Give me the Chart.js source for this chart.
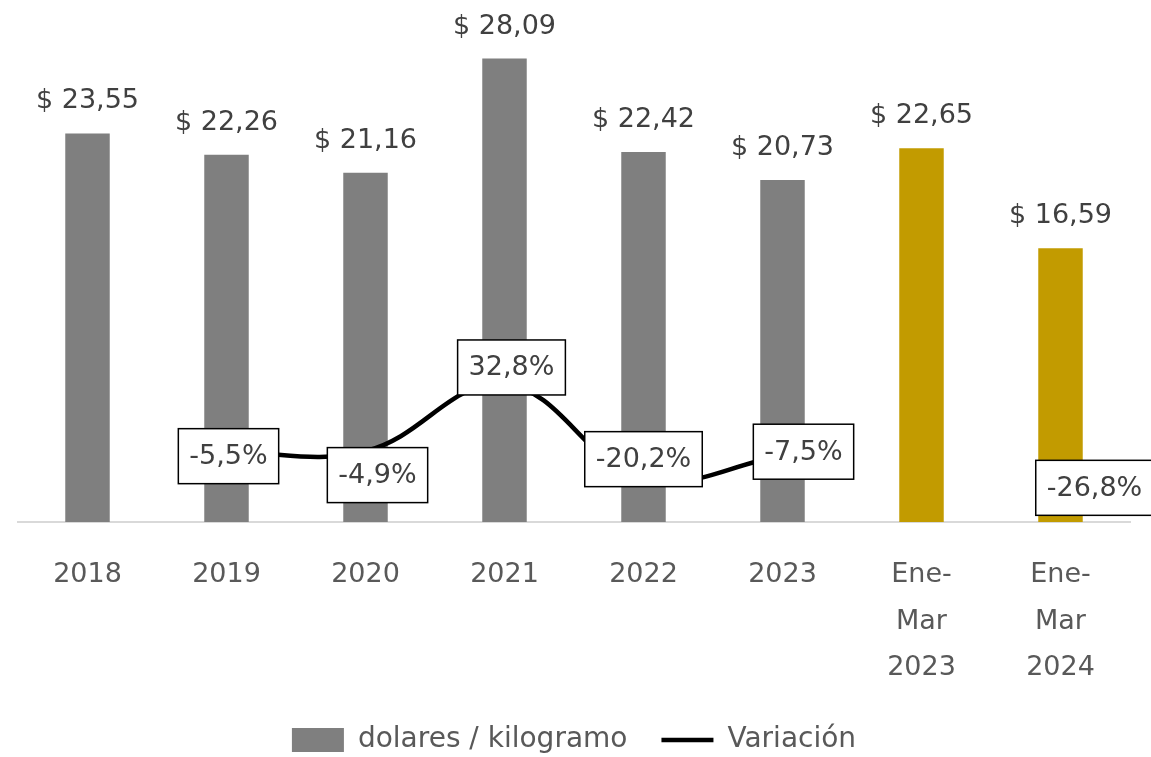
<!DOCTYPE html>
<html>
<head>
<meta charset="utf-8">
<script src="https://cdn.jsdelivr.net/npm/chart.js@4.4.1/dist/chart.umd.min.js"></script>
<style>
  html, body { margin: 0; padding: 0; background: #fff; }
  #wrap { width: 1151px; height: 757px; }
</style>
</head>
<body>
<div id="wrap"><canvas id="myChart" width="1151" height="757"></canvas></div>
<script>
var labels = ['2018', '2019', '2020', '2021', '2022', '2023', ['Ene-', 'Mar', '2023'], ['Ene-', 'Mar', '2024']]
var precio = [23.55, 22.26, 21.16, 28.09, 22.42, 20.73, 22.65, 16.59]
var variacion = [null, -5.5, -4.9, 32.8, -20.2, -7.5, null, -26.8]
var barColors = ['#7f7f7f', '#7f7f7f', '#7f7f7f', '#7f7f7f', '#7f7f7f', '#7f7f7f', '#c29b00', '#c29b00']

// where each % box sits relative to its point (excel moved them by hand)
var boxShift = [[0, 0], [2, 4], [12, 24], [7, -17], [0, -19], [21, -4], [0, 0], [34, -2]]

var fontName = "'DejaVu Sans', sans-serif"

function fmt(v, dec) {
    return v.toFixed(dec).replace('.', ',')
}

var labelPlugin = {
    id: 'valueLabels',
    afterDatasetsDraw: function (chart) {
        var ctx = chart.ctx
        ctx.save()
        ctx.font = '27px ' + fontName
        ctx.textAlign = 'center'
        ctx.textBaseline = 'middle'

        // bar values
        var barMeta = chart.getDatasetMeta(1)
        barMeta.data.forEach(function (bar, i) {
            ctx.fillStyle = '#404040'
            ctx.fillText('$ ' + fmt(precio[i], 2), bar.x, bar.y - 32)
        })

        // variation boxes
        var lineMeta = chart.getDatasetMeta(0)
        lineMeta.data.forEach(function (pt, i) {
            if (variacion[i] === null) return
            var txt = fmt(variacion[i], 1) + '%'
            var cx = pt.x + boxShift[i][0]
            var cy = pt.y + boxShift[i][1]
            var w = ctx.measureText(txt).width + 22
            var h = 55
            ctx.fillStyle = '#ffffff'
            ctx.fillRect(cx - w / 2, cy - h / 2, w, h)
            ctx.strokeStyle = '#000000'
            ctx.lineWidth = 1.5
            ctx.strokeRect(cx - w / 2, cy - h / 2, w, h)
            ctx.fillStyle = '#404040'
            ctx.fillText(txt, cx, cy + 1)
        })
        ctx.restore()
    }
}

var ctx = document.getElementById('myChart').getContext('2d')
var myChart = new Chart(ctx, {
    type: 'bar',
    data: {
        labels: labels,
        datasets: [{
            label: 'Variación',
            type: 'line',
            data: variacion,
            yAxisID: 'y1',
            borderColor: '#000000',
            backgroundColor: '#000000',
            borderWidth: 4.5,
            tension: 0.4,
            pointRadius: 0,
            spanGaps: false,
            fill: false
        }, {
            label: 'dolares / kilogramo',
            type: 'bar',
            data: precio,
            yAxisID: 'y',
            backgroundColor: barColors,
            borderWidth: 0,
            categoryPercentage: 1,
            barPercentage: 0.32
        }]
    },
    options: {
        responsive: false,
        animation: false,
        layout: {
            padding: { left: 18, right: 21, top: 27, bottom: -7 }
        },
        scales: {
            x: {
                grid: { display: false, drawTicks: false },
                border: { display: true, color: '#d9d9d9', width: 2 },
                ticks: {
                    color: '#595959',
                    padding: 30,
                    maxRotation: 0,
                    autoSkip: false,
                    font: { family: fontName, size: 27, lineHeight: 1.72 }
                },
                afterFit: function (scale) {
                    scale.height = 170
                }
            },
            y: {
                display: false,
                min: 0,
                max: 30
            },
            y1: {
                display: false,
                position: 'right',
                min: -45,
                max: 235
            }
        },
        plugins: {
            tooltip: { enabled: false },
            legend: {
                display: true,
                position: 'bottom',
                reverse: true,
                labels: {
                    color: '#595959',
                    usePointStyle: true,
                    pointStyleWidth: 52,
                    boxHeight: 24,
                    padding: 34,
                    font: { family: fontName, size: 28 },
                    generateLabels: function (chart) {
                        var items = Chart.defaults.plugins.legend.labels.generateLabels(chart)
                        items.forEach(function (it) {
                            if (it.text === 'Variación') {
                                it.pointStyle = 'line'
                                it.strokeStyle = '#000000'
                                it.lineWidth = 4.5
                            } else {
                                it.pointStyle = 'rect'
                                it.fillStyle = '#7f7f7f'
                                it.lineWidth = 0
                            }
                        })
                        return items
                    }
                }
            }
        }
    },
    plugins: [labelPlugin]
})
</script>
</body>
</html>
